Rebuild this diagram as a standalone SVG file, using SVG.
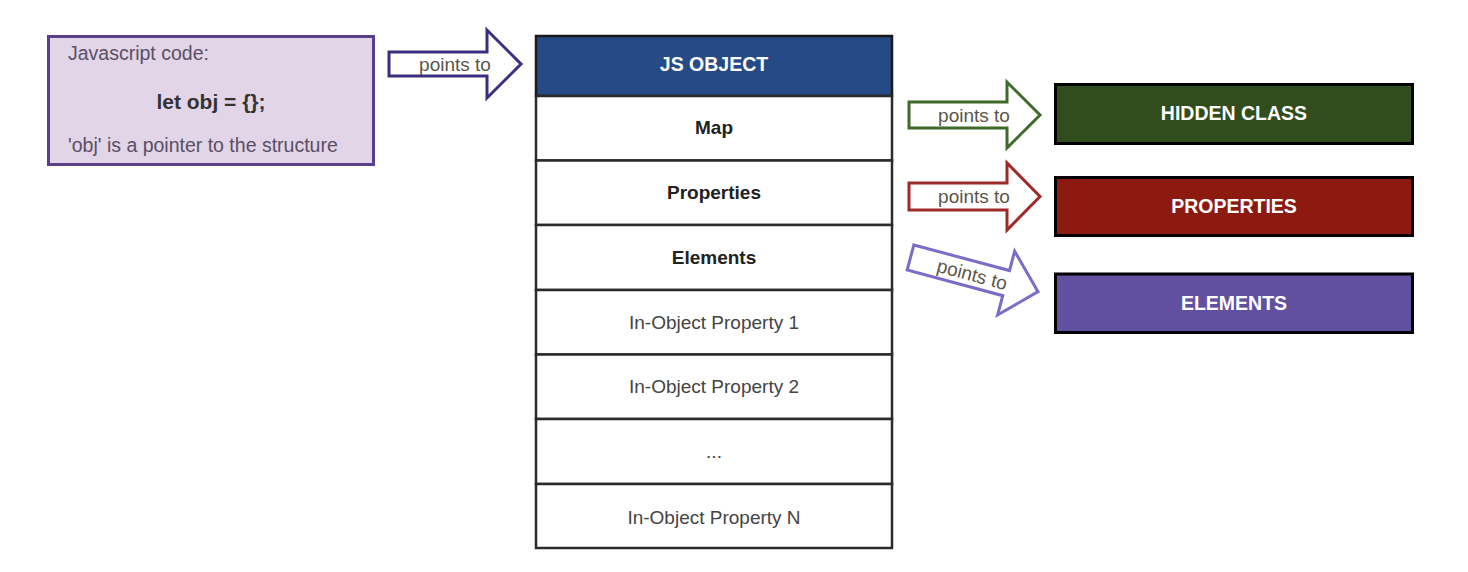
<svg xmlns="http://www.w3.org/2000/svg" width="1468" height="572" viewBox="0 0 1468 572">
<style>
text{font-family:"Liberation Sans",Arial,sans-serif;}
.row{fill:#fff;stroke:#2b2b2b;stroke-width:2.5;}
.rb{font-size:19px;font-weight:bold;fill:#222;text-anchor:middle;}
.rn{font-size:19px;fill:#444;text-anchor:middle;}
.hd{font-size:19.5px;font-weight:bold;fill:#fff;text-anchor:middle;}
.box{stroke:#000;stroke-width:3;}
.arr{fill:#fff;stroke-width:3;stroke-linejoin:miter;}
.lbl{font-size:19px;fill:#5c5548;text-anchor:middle;}
.code{font-size:19.5px;fill:#5a4f66;}
</style>
<rect width="1468" height="572" fill="#fff"/>

<g id="code-box">
<rect x="48.5" y="36.5" width="325" height="128" fill="#e1d5e7" stroke="#5b3f8c" stroke-width="3"/>
<text class="code" x="68" y="60">Javascript code:</text>
<text x="211" y="109" font-size="21" font-weight="bold" fill="#333" text-anchor="middle">let obj = {};</text>
<text class="code" x="68" y="152">'obj' is a pointer to the structure</text>
</g>

<g id="js-object">
<rect x="536" y="36" width="356" height="60" fill="#264a85" stroke="#1a1a1a" stroke-width="2.5"/>
<text class="hd" x="714" y="71">JS OBJECT</text>
</g>
<g id="row-map"><rect class="row" x="536" y="96" width="356" height="64.5"/><text class="rb" x="714" y="134">Map</text></g>
<g id="row-properties"><rect class="row" x="536" y="160.5" width="356" height="64.5"/><text class="rb" x="714" y="199">Properties</text></g>
<g id="row-elements"><rect class="row" x="536" y="225" width="356" height="65"/><text class="rb" x="714" y="264">Elements</text></g>
<g id="row-iop1"><rect class="row" x="536" y="290" width="356" height="64.5"/><text class="rn" x="714" y="329">In-Object Property 1</text></g>
<g id="row-iop2"><rect class="row" x="536" y="354.5" width="356" height="64.5"/><text class="rn" x="714" y="393">In-Object Property 2</text></g>
<g id="row-dots"><rect class="row" x="536" y="419" width="356" height="65"/><text class="rn" x="714" y="458">...</text></g>
<g id="row-iopn"><rect class="row" x="536" y="484" width="356" height="64"/><text class="rn" x="714" y="524">In-Object Property N</text></g>

<g id="hidden-class">
<rect class="box" x="1055.5" y="84.5" width="357" height="59" fill="#314c1d"/>
<text class="hd" x="1234" y="120">HIDDEN CLASS</text>
</g>
<g id="properties">
<rect class="box" x="1055.5" y="177.5" width="357" height="58" fill="#8c1a11"/>
<text class="hd" x="1234" y="213">PROPERTIES</text>
</g>
<g id="elements">
<rect class="box" x="1055.5" y="274" width="357" height="58.5" fill="#6150a0"/>
<text class="hd" x="1234" y="310">ELEMENTS</text>
</g>

<g id="connectors">
<g id="arrow-code-js">
<path class="arr" stroke="#3a2e80" d="M389,52 H487 V30 L521,64 L487,98 V76 H389 Z"/>
<text class="lbl" x="455" y="71">points to</text>
</g>
<g id="arrow-map-hidden">
<path class="arr" stroke="#3f6a2a" d="M909,102 H1007 V82 L1040,115 L1007,148 V128 H909 Z"/>
<text class="lbl" x="974" y="122">points to</text>
</g>
<g id="arrow-props-props">
<path class="arr" stroke="#9e2a2a" d="M909,183 H1007 V163 L1040,196.5 L1007,230 V210 H909 Z"/>
<text class="lbl" x="974" y="203">points to</text>
</g>
<g id="arrow-elems-elems" transform="translate(910.5,257.5) rotate(15)">
<path class="arr" stroke="#7b6cc6" d="M0,-13 H99 V-33 L132,0 L99,33 V13 H0 Z"/>
<text class="lbl" x="64" y="7">points to</text>
</g>
</g>
</svg>
